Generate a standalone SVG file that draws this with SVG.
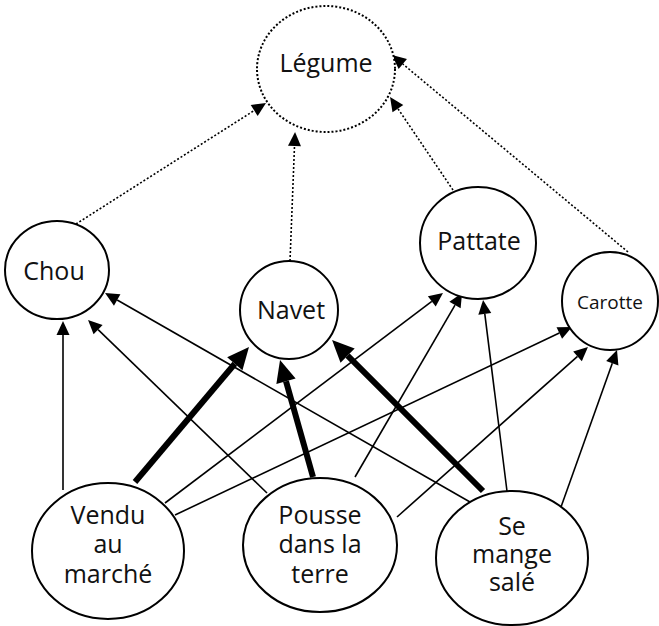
<svg xmlns="http://www.w3.org/2000/svg" width="659" height="626" viewBox="0 0 659 626">
  <style>
    .node { fill: #ffffff; stroke: #000000; stroke-width: 2; }
    .dot { fill: #ffffff; stroke: #000000; stroke-width: 2; stroke-dasharray: 2 2; }
    .lbl { font-family: "Open Sans", "Noto Sans", sans-serif; font-size: 25px; fill: #111111; text-anchor: middle; }
    .small { font-size: 19px; }
    .thin { fill: none; stroke: #000000; stroke-width: 1.6; marker-end: url(#head); }
    .dotted { fill: none; stroke: #000000; stroke-width: 1.6; stroke-dasharray: 2 2; marker-end: url(#head); }
    .thick { fill: none; stroke: #000000; stroke-width: 6; marker-end: url(#headBig); }
  </style>
  <defs>
    <marker id="head" markerUnits="userSpaceOnUse" markerWidth="14" markerHeight="13" refX="0" refY="6.5" orient="auto" overflow="visible">
      <path d="M0,0 L14,6.5 L0,13 Z" fill="#000000"/>
    </marker>
    <marker id="headBig" markerUnits="userSpaceOnUse" markerWidth="22" markerHeight="20" refX="0" refY="10" orient="auto" overflow="visible">
      <path d="M0,0 L22,10 L0,20 Z" fill="#000000"/>
    </marker>
  </defs>

  <rect width="659" height="626" fill="#ffffff"/>

  <!-- connectors -->
  <g id="connectors">
    <!-- dotted: category links to Légume -->
    <path class="dotted" d="M76,224 L254.2,110.5"/>
    <path class="dotted" d="M290,261 L294.5,146"/>
    <path class="dotted" d="M453,190 L397.9,108.6"/>
    <path class="dotted" d="M628,252 L402.8,64"/>
    <!-- thin property links -->
    <path class="thin" d="M63,490 L63,335"/>
    <path class="thin" d="M165,503 L431.8,301.4"/>
    <path class="thin" d="M175,515 L559.3,333"/>
    <path class="thin" d="M267,493 L98.1,329.7"/>
    <path class="thin" d="M355,477 L455,305.1"/>
    <path class="thin" d="M397,517 L577.5,356.3"/>
    <path class="thin" d="M477,506 L117.2,300"/>
    <path class="thin" d="M507,491 L484.8,313.9"/>
    <path class="thin" d="M561,507 L612.3,363.2"/>
    <!-- thick links to Navet -->
    <path class="thick" d="M135,482 L234.8,363.8"/>
    <path class="thick" d="M313,477 L286,381.2"/>
    <path class="thick" d="M483,491 L347.6,355.6"/>
  </g>

  <g id="legume">
    <ellipse class="dot" cx="326" cy="69" rx="69" ry="63"/>
    <text class="lbl" x="326" y="72">Légume</text>
  </g>
  <g id="chou">
    <ellipse class="node" cx="57" cy="270" rx="52" ry="49"/>
    <text class="lbl" x="54" y="280">Chou</text>
  </g>
  <g id="navet">
    <ellipse class="node" cx="289" cy="310" rx="49" ry="49"/>
    <text class="lbl" x="291" y="319">Navet</text>
  </g>
  <g id="pattate">
    <ellipse class="node" cx="478" cy="243" rx="58" ry="56"/>
    <text class="lbl" x="479" y="250">Pattate</text>
  </g>
  <g id="carotte">
    <ellipse class="node" cx="610" cy="301" rx="48" ry="49"/>
    <text class="lbl small" x="610" y="309">Carotte</text>
  </g>
  <g id="vendu">
    <ellipse class="node" cx="108" cy="551" rx="76" ry="68"/>
    <text class="lbl" x="108" y="524">Vendu<tspan x="108" dy="29">au</tspan><tspan x="108" dy="30">marché</tspan></text>
  </g>
  <g id="pousse">
    <ellipse class="node" cx="320" cy="545" rx="77" ry="67"/>
    <text class="lbl" x="320" y="524">Pousse<tspan x="320" dy="29">dans la</tspan><tspan x="320" dy="30">terre</tspan></text>
  </g>
  <g id="sale">
    <ellipse class="node" cx="512" cy="558" rx="76" ry="67"/>
    <text class="lbl" x="512" y="535">Se<tspan x="512" dy="28">mange</tspan><tspan x="512" dy="28">salé</tspan></text>
  </g>
</svg>
